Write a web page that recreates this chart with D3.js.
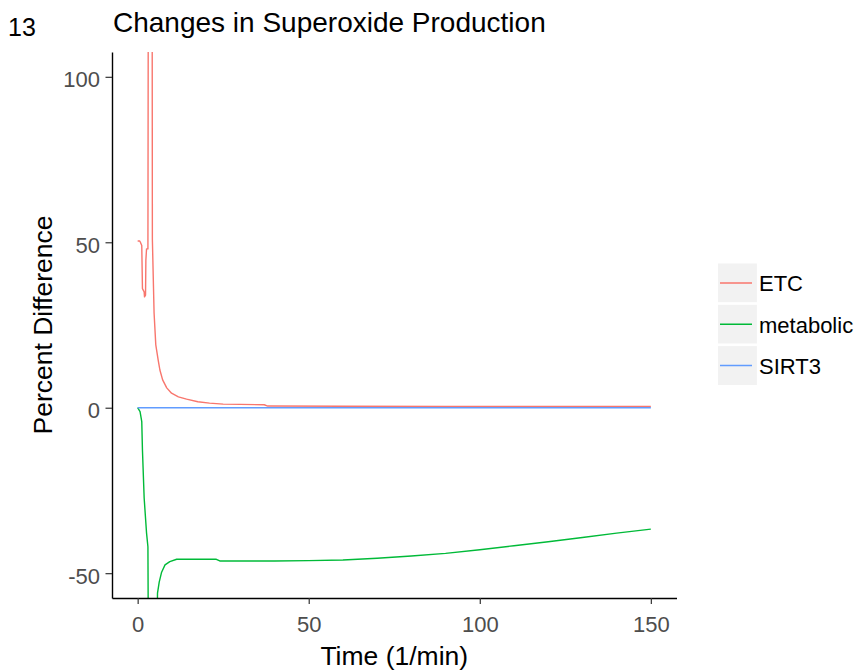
<!DOCTYPE html>
<html>
<head>
<meta charset="utf-8">
<script src="https://cdn.jsdelivr.net/npm/d3@7"></script>
<style>
  html, body { margin: 0; padding: 0; background: #fff; }
  svg { display: block; font-family: "Liberation Sans", Arial, sans-serif; }
</style>
</head>
<body>
<svg id="chart" width="859" height="672"></svg>
<script>
// Percent difference in superoxide production over time, per model variant
const etcTime  = [0, 0.6, 0.8, 1.2, 1.4, 1.9, 2.0, 2.3, 2.4, 2.6, 3.0, 3.5, 4.0, 4.3, 4.8, 5.3, 6.0, 6.5, 7.3, 8.5, 9.9, 11.9, 14.3, 17.6, 21, 25, 30, 37, 38, 60, 90, 120, 150];
const etcValue = [50.4, 50.4, 50, 49, 36, 35, 33.5, 34, 44.6, 48, 48, 420, 420, 51, 28.6, 19, 14.4, 11.4, 8.4, 6.0, 4.4, 3.3, 2.6, 1.8, 1.4, 1.1, 1.0, 0.9, 0.5, 0.45, 0.4, 0.4, 0.35];

const metabolicTime  = [0, 0.7, 1.2, 1.4, 1.9, 2.6, 3.0, 3.5, 5.0, 5.8, 6.3, 7.0, 8.0, 9.4, 11.4, 23, 24, 40, 50, 60, 70, 80, 90, 100, 110, 120, 130, 140, 150];
const metabolicValue = [0, -1.2, -4.2, -12.8, -27.3, -37.9, -42, -160, -160, -56, -52.7, -49.7, -47.5, -46.5, -45.8, -45.8, -46.3, -46.3, -46.2, -46.0, -45.5, -44.8, -44.0, -42.9, -41.7, -40.5, -39.2, -37.9, -36.7];

const sirt3Time  = [0, 150];
const sirt3Value = [0, 0];

const seriesNames  = ["ETC", "metabolic", "SIRT3"];
const seriesColors = ["#F8766D", "#00BA38", "#619CFF"];

const xTicks = [0, 50, 100, 150];
const yTicks = [-50, 0, 50, 100];

const seriesData = [
  d3.zip(etcTime, etcValue),
  d3.zip(metabolicTime, metabolicValue),
  d3.zip(sirt3Time, sirt3Value)
];

const svg = d3.select("#chart");

// Panel extents: data limits with 5% expansion on each side
const x = d3.scaleLinear().domain([-7.5, 157.5]).range([112, 676.5]);
const y = d3.scaleLinear().domain([-57.5, 107.5]).range([598, 52]);

svg.append("defs").append("clipPath").attr("id", "panel")
  .append("rect")
  .attr("x", x.range()[0]).attr("y", y.range()[1])
  .attr("width", x.range()[1] - x.range()[0])
  .attr("height", y.range()[0] - y.range()[1]);

const line = d3.line().x(d => x(d[0])).y(d => y(d[1]));

svg.append("g").attr("clip-path", "url(#panel)")
  .selectAll("path")
  .data(seriesData)
  .join("path")
  .attr("d", line)
  .attr("fill", "none")
  .attr("stroke", (d, i) => seriesColors[i])
  .attr("stroke-width", 1.4)
  .attr("stroke-linejoin", "round");

// Axes (plain hyphen for negative labels)
const fmt = d => String(d);

const xAxis = svg.append("g")
  .attr("transform", `translate(0,${y.range()[0]})`)
  .call(d3.axisBottom(x).tickValues(xTicks).tickFormat(fmt)
    .tickSize(6).tickSizeOuter(0).tickPadding(12));

const yAxis = svg.append("g")
  .attr("transform", `translate(${x.range()[0]},0)`)
  .call(d3.axisLeft(y).tickValues(yTicks).tickFormat(fmt)
    .tickSize(6.5).tickSizeOuter(0).tickPadding(5.5));

[xAxis, yAxis].forEach(g => {
  g.select(".domain").attr("stroke", "#000").attr("stroke-width", 1.4);
  g.selectAll(".tick line").attr("stroke", "#333").attr("stroke-width", 1.2);
  g.selectAll(".tick text")
    .attr("fill", "#4D4D4D")
    .style("font-size", "22px")
    .style("font-family", "\"Liberation Sans\", Arial, sans-serif");
});
yAxis.selectAll(".tick text").attr("dy", "0.45em");

// Axis titles
svg.append("text")
  .attr("x", (x.range()[0] + x.range()[1]) / 2)
  .attr("y", 665)
  .attr("text-anchor", "middle")
  .style("font-size", "26.5px")
  .attr("fill", "#000")
  .text("Time (1/min)");

svg.append("text")
  .attr("transform", `translate(52,${(y.range()[0] + y.range()[1]) / 2}) rotate(-90)`)
  .attr("text-anchor", "middle")
  .style("font-size", "26.5px")
  .attr("fill", "#000")
  .text("Percent Difference");

// Plot title and panel tag
svg.append("text")
  .attr("x", 113).attr("y", 32)
  .style("font-size", "28px")
  .attr("fill", "#000")
  .text("Changes in Superoxide Production");

svg.append("text")
  .attr("x", 8).attr("y", 36)
  .style("font-size", "25px")
  .attr("fill", "#000")
  .text("13");

// Legend
const keySize = 41.3;
const legend = svg.append("g").attr("transform", "translate(716.8,262.3)");
const keys = legend.selectAll("g")
  .data(seriesNames)
  .join("g")
  .attr("transform", (d, i) => `translate(0,${i * keySize})`);

keys.append("rect")
  .attr("width", keySize).attr("height", keySize)
  .attr("fill", "#F2F2F2")
  .attr("stroke", "#fff").attr("stroke-width", 2.4);

keys.append("line")
  .attr("x1", 3.2).attr("x2", 35.2)
  .attr("y1", keySize / 2).attr("y2", keySize / 2)
  .attr("stroke", (d, i) => seriesColors[i])
  .attr("stroke-width", 1.4);

keys.append("text")
  .attr("x", 42.2)
  .attr("y", keySize / 2 + 8.5)
  .style("font-size", "22px")
  .attr("fill", "#000")
  .text(d => d);
</script>
</body>
</html>
